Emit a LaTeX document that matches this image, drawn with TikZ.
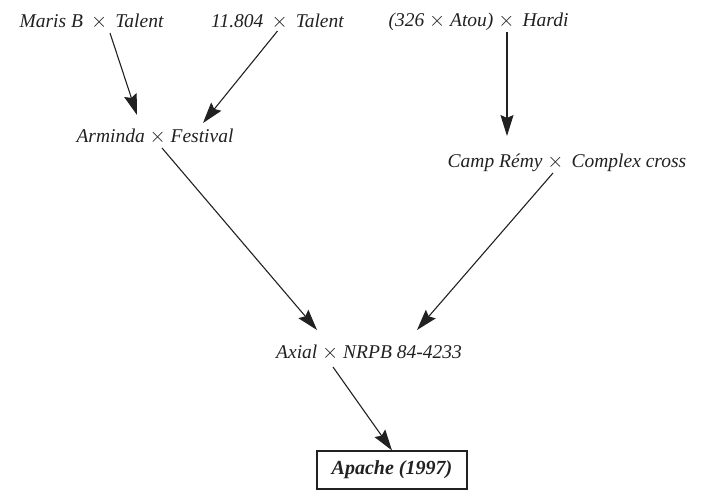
\documentclass[tikz,border=0pt]{standalone}
\usepackage{fontspec}
\setmainfont{Liberation Serif}
\usepackage{xcolor}
\usetikzlibrary{arrows.meta}
\usetikzlibrary{positioning}
\usetikzlibrary{calc}
\definecolor{ink}{rgb}{0.13, 0.13, 0.13}

\tikzset{
	cross/.style={inner sep=0pt, text=ink, font=\fontsize{19.5}{22}\selectfont\itshape},
	parentarrow/.style={draw=ink, line width=1.1pt, -{Stealth[length=21pt, width=13pt, inset=3pt]}},
	varietybox/.style={draw=ink, line width=1.1pt, minimum width=150pt, minimum height=38pt, text=ink, font=\fontsize{20}{24}\selectfont\bfseries\itshape}
}

\begin{document}
\begin{tikzpicture}[x=1pt, y=-1pt]
		\useasboundingbox (0,0) rectangle (702,493);
		
		%parents
		\node[cross] (maris) at (91.5,22) {Maris B \,$\times$\, Talent};
		\node[cross] (eleven) at (277.5,22) {11.804 \,$\times$\, Talent};
		\node[cross] (hardi) at (478.5,22) {(326 $\times$ Atou) $\times$\, Hardi};
		
		%crosses
		\node[cross] (arminda) at (155,137) {Arminda $\times$ Festival};
		\node[cross] (camp) at (567,163) {Camp Rémy $\times$\, Complex cross};
		\node[cross] (axial) at (369,353) {Axial $\times$ NRPB 84-4233};
		
		%variety
		\node[varietybox] (apache) at (392,470) {Apache (1997)};
		
		%draw arrows
		\draw[parentarrow] ([shift={(18.5,11)}]maris.center) -- ([shift={(-18,-22)}]arminda.center);
		\draw[parentarrow] ([shift={(0,9)}]eleven.center) -- ([shift={(48,-14)}]arminda.center);
		\draw[parentarrow] ([shift={(28.5,10)}]hardi.center) -- ([shift={(-60,-27)}]camp.center);
		\draw[parentarrow] ([shift={(7,11)}]arminda.center) -- ([shift={(-52,-23)}]axial.center);
		\draw[parentarrow] ([shift={(-14,10)}]camp.center) -- ([shift={(48,-23)}]axial.center);
		\draw[parentarrow] ([shift={(-36,14)}]axial.center) -- (apache.north);
	\end{tikzpicture}
\end{document}
